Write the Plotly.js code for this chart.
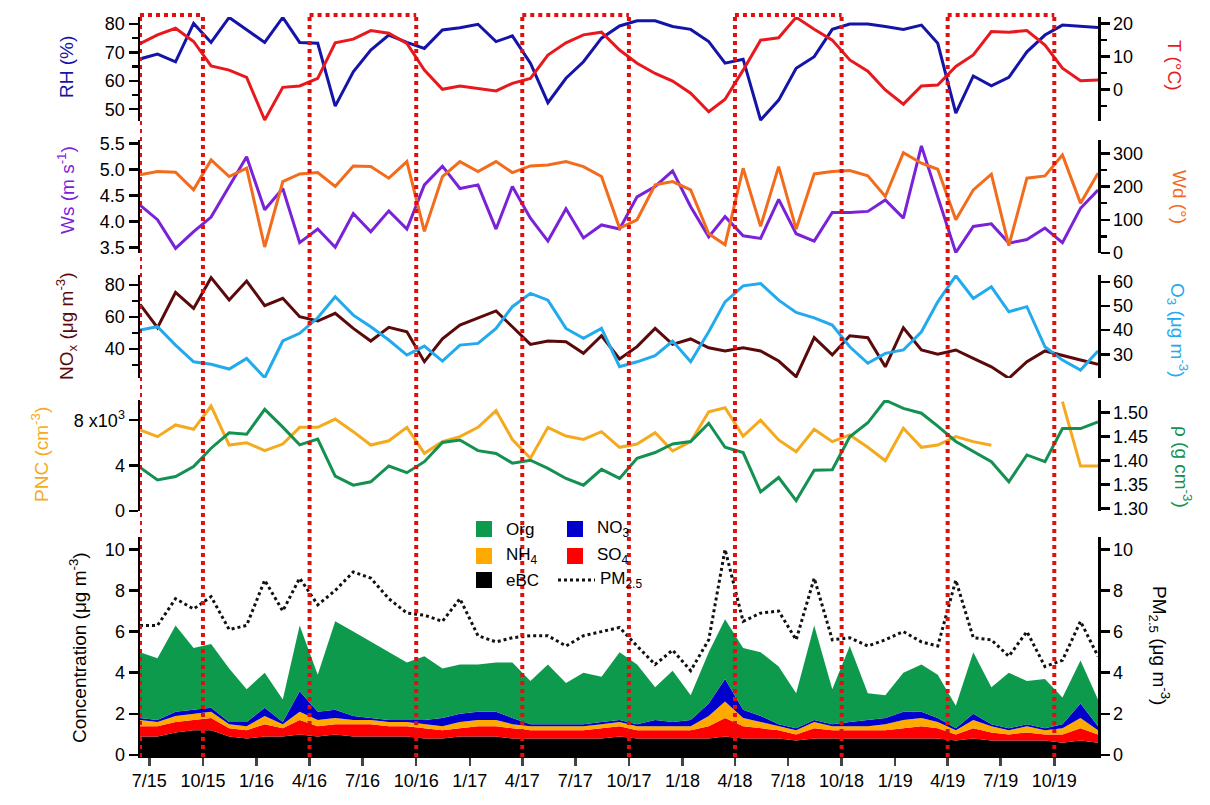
<!DOCTYPE html>
<html>
<head>
<meta charset="utf-8">
<script src="https://cdn.plot.ly/plotly-3.0.1.min.js"></script>
<style>html,body{margin:0;padding:0;background:#fff;}#chart{width:1210px;height:805px;}</style>
</head>
<body>
<div id="chart"></div>
<script>
const months = ["2015-06-15","2015-07-15","2015-08-15","2015-09-15","2015-10-15","2015-11-15","2015-12-15",
"2016-01-15","2016-02-15","2016-03-15","2016-04-15","2016-05-15","2016-06-15","2016-07-15","2016-08-15","2016-09-15","2016-10-15","2016-11-15","2016-12-15",
"2017-01-15","2017-02-15","2017-03-15","2017-04-15","2017-05-15","2017-06-15","2017-07-15","2017-08-15","2017-09-15","2017-10-15","2017-11-15","2017-12-15",
"2018-01-15","2018-02-15","2018-03-15","2018-04-15","2018-05-15","2018-06-15","2018-07-15","2018-08-15","2018-09-15","2018-10-15","2018-11-15","2018-12-15",
"2019-01-15","2019-02-15","2019-03-15","2019-04-15","2019-05-15","2019-06-15","2019-07-15","2019-08-15","2019-09-15","2019-10-15","2019-11-15","2019-12-15"];

const tickDates = ["2015-07-01","2015-10-01","2016-01-01","2016-04-01","2016-07-01","2016-10-01","2017-01-01","2017-04-01","2017-07-01","2017-10-01","2018-01-01","2018-04-01","2018-07-01","2018-10-01","2019-01-01","2019-04-01","2019-07-01","2019-10-01"];
const tickLabels = ["7/15","10/15","1/16","4/16","7/16","10/16","1/17","4/17","7/17","10/17","1/18","4/18","7/18","10/18","1/19","4/19","7/19","10/19"];

const RH = [67.7,69.4,66.7,80.2,73.5,82.3,78,73.5,82.3,73.5,73.2,51.1,63.2,70.8,76.1,73.5,71.4,77.9,78.7,79.9,73.8,75.8,66.2,52.3,60.9,66.7,75,79.3,81.1,81.1,79.1,78.1,73.8,66.2,67.6,46.2,53.2,64.4,68.5,78.1,80,80,79.1,78.1,79.6,73.2,48.6,61.7,58.2,61.2,70.2,76.1,79.6,79.3,78.8];
const T = [13.8,16.5,18.5,14.5,7.1,5.8,3.6,-9.3,0.6,1.0,3.3,14.1,15.2,17.8,17.0,13.9,5.8,0,1.0,0.3,-0.5,1.8,3.3,10.4,14.1,16.5,17.3,11.9,7.9,4.8,2.5,-1.2,-6.8,-3.0,5.8,14.9,15.6,21.8,18.2,14.9,8.9,5.5,-0.2,-4.5,1.0,1.3,6.9,10.4,17.5,17.3,17.8,13.4,6.4,2.6,2.8];
const Ws = [4.31,4.03,3.48,3.80,4.08,4.67,5.24,4.22,4.63,3.59,3.85,3.50,4.15,3.80,4.20,3.85,4.70,5.06,4.63,4.70,3.85,4.67,4.06,3.62,4.24,3.68,3.93,3.85,4.47,4.67,4.97,4.28,3.70,4.09,3.72,3.67,4.42,3.76,3.62,4.17,4.17,4.19,4.41,4.06,5.45,4.47,3.40,3.90,3.95,3.58,3.65,3.87,3.59,4.25,4.60];
const Wd = [235,245,243,190,280,230,255,18,215,238,242,200,262,260,225,275,65,230,275,245,275,242,262,265,275,260,230,75,100,205,215,190,58,25,255,80,260,72,238,245,248,232,170,302,270,252,100,190,237,22,225,232,295,150,240];
const NOx = [67.9,53.3,75.4,65.4,84.6,70.6,82.5,67.1,71.7,60.2,57.5,62.3,52.9,45,53.6,50.8,32.1,46.3,55,59.2,63.8,53.9,42.9,45,44.6,37.3,48.3,33.8,41.5,52.9,42.9,46.3,40.8,38.8,40.8,38.8,32.5,22.7,47.1,36.3,48.3,47.1,28.9,53.3,39.4,36.7,39.4,34.2,28.9,21.7,32.1,38.8,35.8,33.1,30.4];
const O3 = [40.0,41.4,33.8,26.9,25.9,23.9,28.3,20.3,35.5,38.7,45.1,53.8,46.2,41.4,35.9,29.7,33.4,27.2,33.8,34.5,40.7,49.7,55.2,52.4,40.7,36.6,40.7,24.9,26.9,29.4,35.5,26.9,39.3,51.7,58.3,59.3,52.4,47.3,45.1,42.1,33.1,26.3,30.4,31.8,39.3,51.7,62.5,53.1,57.9,47.6,49.7,33.1,27.6,23.5,31.4];
const PNC = [7.14,6.55,7.58,7.2,9.25,5.81,6.02,5.31,5.9,7.37,7.37,8.1,6.99,5.81,6.19,7.37,5.08,6.11,6.55,7.37,8.84,6.3,4.64,7.37,6.61,6.31,6.99,5.61,5.9,6.9,5.29,6.11,8.75,9.1,6.6,8.0,6.26,5.22,7.2,6.11,6.7,5.61,4.43,7.29,5.61,5.81,6.55,6.11,5.8,null,null,null,9.63,3.96,3.96];
const rho = [1.386,1.360,1.367,1.388,1.426,1.458,1.455,1.507,1.470,1.433,1.445,1.368,1.349,1.356,1.389,1.375,1.398,1.438,1.443,1.421,1.415,1.395,1.401,1.384,1.363,1.349,1.382,1.363,1.405,1.417,1.435,1.440,1.478,1.428,1.417,1.335,1.365,1.317,1.380,1.381,1.450,1.479,1.526,1.509,1.499,1.472,1.440,1.419,1.398,1.356,1.412,1.398,1.467,1.467,1.481];

const eBC = [0.9,0.9,1.1,1.2,1.2,0.9,0.8,0.9,0.9,1.0,0.9,1.0,0.9,0.9,0.9,0.9,0.8,0.8,0.9,0.9,0.9,0.8,0.8,0.8,0.8,0.8,0.8,0.9,0.8,0.8,0.8,0.8,0.8,0.9,0.8,0.8,0.8,0.7,0.8,0.8,0.8,0.8,0.8,0.8,0.8,0.8,0.7,0.8,0.7,0.7,0.7,0.7,0.6,0.7,0.6];
const SO4 = [0.5,0.5,0.5,0.5,0.6,0.4,0.4,0.6,0.4,0.7,0.5,0.5,0.6,0.6,0.5,0.5,0.5,0.4,0.4,0.5,0.5,0.5,0.4,0.4,0.4,0.4,0.5,0.5,0.4,0.4,0.4,0.4,0.6,0.9,0.6,0.5,0.4,0.3,0.5,0.4,0.4,0.4,0.4,0.5,0.6,0.5,0.3,0.5,0.4,0.3,0.4,0.3,0.4,0.6,0.4];
const NH4 = [0.3,0.2,0.3,0.3,0.3,0.2,0.2,0.4,0.2,0.4,0.3,0.3,0.2,0.2,0.2,0.2,0.2,0.2,0.3,0.3,0.3,0.2,0.2,0.2,0.2,0.2,0.2,0.2,0.2,0.2,0.2,0.2,0.5,0.8,0.4,0.3,0.2,0.2,0.3,0.2,0.2,0.2,0.3,0.4,0.4,0.3,0.2,0.4,0.3,0.2,0.3,0.2,0.3,0.5,0.2];
const NO3 = [0.1,0.1,0.2,0.2,0.2,0.1,0.2,0.4,0.1,1.0,0.4,0.4,0.2,0.1,0.1,0.1,0.2,0.4,0.4,0.4,0.4,0.3,0.1,0.1,0.1,0.1,0.1,0.1,0.1,0.3,0.2,0.3,0.6,1.1,0.4,0.3,0.1,0.1,0.1,0.1,0.2,0.3,0.3,0.4,0.3,0.2,0.1,0.3,0.1,0.1,0.1,0.1,0.2,0.7,0.2];
const Org = [3.2,3.0,4.2,3.0,3.1,2.6,1.6,1.7,1.1,3.2,1.8,4.3,4.1,3.7,3.3,2.8,3.1,2.4,2.4,2.3,2.4,2.7,2.1,2.9,2.0,2.5,2.2,3.3,2.9,1.6,2.5,1.2,2.5,2.9,3.0,3.1,2.8,1.7,4.6,1.7,3.7,1.3,1.1,1.9,2.3,2.1,1.1,3.0,1.8,2.7,2.1,2.4,1.3,2.1,1.3];
const PM25 = [6.3,6.3,7.6,7.1,7.7,6.1,6.3,8.5,7.0,8.6,7.3,8.0,8.9,8.6,7.6,6.9,6.8,6.5,7.6,5.8,5.5,5.7,5.8,5.8,5.3,5.8,6.0,6.2,5.3,4.4,5.1,4.1,5.6,10.0,6.5,6.9,7.0,5.6,8.6,5.6,5.7,5.3,5.6,6.0,5.5,5.3,8.5,5.7,5.6,4.8,6.0,4.3,4.6,6.5,4.8];

const FONT = "Liberation Sans, Arial, sans-serif";
const C = {RH:"#1414a8", T:"#e8191e", Ws:"#7a22d8", Wd:"#f26c1c", NOx:"#5a0a0a", O3:"#22aaee", PNC:"#f5aa1e", rho:"#149050",
  Org:"#0e9a4c", NH4:"#ffaa00", NO3:"#0000cc", SO4:"#ff0000", eBC:"#000000"};

function ln(y, yaxis, color, name) {
  return {x: months, y: y, yaxis: yaxis, type: "scatter", mode: "lines", name: name,
    line: {color: color, width: 3}, connectgaps: false, showlegend: false, hoverinfo: "skip"};
}
function st(y, color, name) {
  return {x: months, y: y, yaxis: "y9", type: "scatter", mode: "lines", stackgroup: "a", name: name,
    line: {width: 0, color: color}, fillcolor: color, showlegend: false, hoverinfo: "skip"};
}
const traces = [
  ln(RH, "y", C.RH, "RH"), ln(T, "y2", C.T, "T"),
  ln(Wd, "y4", C.Wd, "Wd"), ln(Ws, "y3", C.Ws, "Ws"),
  ln(NOx, "y5", C.NOx, "NOx"), ln(O3, "y6", C.O3, "O3"),
  ln(PNC, "y7", C.PNC, "PNC"), ln(rho, "y8", C.rho, "rho"),
  st(eBC, C.eBC, "eBC"), st(SO4, C.SO4, "SO4"), st(NH4, C.NH4, "NH4"), st(NO3, C.NO3, "NO3"), st(Org, C.Org, "Org"),
  {x: months, y: PM25, yaxis: "y10", type: "scatter", mode: "lines", name: "PM2.5", line: {color: "#111", width: 3, dash: "dot"}, showlegend: false, hoverinfo: "skip"}
];

const H = 805, TOP = 17, BOT = 50;
const py = p => 1 - (p - TOP) / (H - TOP - BOT);
const px = p => (p - 140) / 958;

function yax(dom, range, side, extra) {
  const a = {domain: [py(dom[1]), py(dom[0])], range: range, showgrid: false, zeroline: false,
    showline: true, linecolor: "#000", linewidth: 2.5, ticks: "outside", ticklen: 9, tickwidth: 2.5, tickcolor: "#000",
    tickfont: {family: FONT, size: 18, color: "#000"}, anchor: "x", side: side, fixedrange: true};
  return Object.assign(a, extra || {});
}
const minor = d => ({minor: {dtick: d, ticks: "outside", ticklen: 6, tickwidth: 2.5, tickcolor: "#000"}});

const layout = {
  width: 1210, height: 805, margin: {l: 140, r: 112, t: TOP, b: BOT},
  paper_bgcolor: "#fff", plot_bgcolor: "rgba(0,0,0,0)", showlegend: false,
  font: {family: FONT, size: 18, color: "#000"},
  xaxis: {type: "date", range: ["2015-06-15", "2019-12-15"], anchor: "y9", showgrid: false, zeroline: false,
    showline: true, linecolor: "#000", linewidth: 2.5, ticks: "outside", ticklen: 8, tickwidth: 2.5,
    tickvals: tickDates, ticktext: tickLabels, tickfont: {family: FONT, size: 18, color: "#000"}, fixedrange: true},
  yaxis: yax([17, 121], [45.85, 82.46], "left", Object.assign({tickvals: [50, 60, 70, 80]}, minor(5))),
  yaxis2: yax([17, 121], [-9.61, 21.91], "right", Object.assign({overlaying: "y", tickvals: [0, 10, 20]}, minor(5))),
  yaxis3: yax([140, 253], [3.39, 5.563], "left", {tickvals: [3.5, 4.0, 4.5, 5.0, 5.5], ticktext: ["3.5", "4.0", "4.5", "5.0", "5.5"]}),
  yaxis4: yax([140, 253], [0, 340], "right", Object.assign({overlaying: "y3", tickvals: [0, 100, 200, 300]}, minor(50))),
  yaxis5: yax([275, 378], [21.9, 86.25], "left", Object.assign({tickvals: [40, 60, 80]}, minor(10))),
  yaxis6: yax([275, 378], [20.2, 62.8], "right", {overlaying: "y5", tickvals: [20, 30, 40, 50, 60]}),
  yaxis7: yax([400, 511], [0, 9.78], "left", {tickvals: [0, 4, 8], ticktext: ["0", "4", "8 x10<sup>3</sup>"]}),
  yaxis8: yax([400, 511], [1.2952, 1.5265], "right", {overlaying: "y7", tickvals: [1.30, 1.35, 1.40, 1.45, 1.50], ticktext: ["1.30", "1.35", "1.40", "1.45", "1.50"]}),
  yaxis9: yax([537, 755], [0, 10.6], "left", {tickvals: [0, 2, 4, 6, 8, 10]}),
  yaxis10: yax([537, 755], [0, 10.6], "right", {overlaying: "y9", tickvals: [0, 2, 4, 6, 8, 10]}),
  shapes: [], annotations: []
};

// highlighted warm-season boxes (left, top and right edges)
const boxes = [["2015-06-15", "2015-10-01"], ["2016-04-01", "2016-10-01"], ["2017-04-01", "2017-10-01"], ["2018-04-01", "2018-10-01"], ["2019-04-01", "2019-10-01"]];
const boxLine = {color: "#e01010", width: 4, dash: "4px,4px"};
boxes.forEach(b => {
  layout.shapes.push({type: "line", xref: "x", yref: "paper", x0: b[0], x1: b[0], y0: py(757), y1: py(15), line: boxLine, layer: "above"});
  layout.shapes.push({type: "line", xref: "x", yref: "paper", x0: b[1], x1: b[1], y0: py(757), y1: py(15), line: boxLine, layer: "above"});
  layout.shapes.push({type: "line", xref: "x", yref: "paper", x0: b[0], x1: b[1], y0: py(15), y1: py(15), line: boxLine, layer: "above"});
});

function title(text, x, y, color, angle, size) {
  layout.annotations.push({text: text, xref: "paper", yref: "paper", x: px(x), y: py(y), showarrow: false,
    textangle: angle, font: {family: FONT, size: size || 19, color: color}, xanchor: "center", yanchor: "middle"});
}
title("RH (%)", 66, 67, C.RH, -90);
title("T (°C)", 1175, 65, C.T, 90);
title("Ws (m s<sup>-1</sup>)", 66, 190, C.Ws, -90);
title("Wd (°)", 1180, 197, C.Wd, 90);
title("NO<sub>x</sub> (μg m<sup>-3</sup>)", 66, 326, C.NOx, -90);
title("O<sub>3</sub> (μg m<sup>-3</sup>)", 1178, 330, C.O3, 90);
title("PNC (cm<sup>-3</sup>)", 40, 455, C.PNC, -90);
title("ρ (g cm<sup>-3</sup>)", 1183, 467, C.rho, 90);
title("Concentration (μg m<sup>-3</sup>)", 78, 648, "#000", -90);
title("PM<sub>2.5</sub> (μg m<sup>-3</sup>)", 1160, 645, "#000", 90);

// legend
function legSq(x, y, color, text) {
  layout.shapes.push({type: "rect", xref: "paper", yref: "paper", x0: px(x - 8), x1: px(x + 8), y0: py(y + 8), y1: py(y - 8), line: {width: 0}, fillcolor: color});
  layout.annotations.push({text: text, xref: "paper", yref: "paper", x: px(x + 20), y: py(y), xanchor: "left", yanchor: "middle", showarrow: false, font: {family: FONT, size: 17, color: "#000"}});
}
legSq(484, 529, C.Org, "Org");
legSq(575, 529, C.NO3, "NO<sub>3</sub>");
legSq(484, 556, C.NH4, "NH<sub>4</sub>");
legSq(575, 556, C.SO4, "SO<sub>4</sub>");
legSq(484, 580, C.eBC, "eBC");
layout.shapes.push({type: "line", xref: "paper", yref: "paper", x0: px(558), x1: px(595), y0: py(580), y1: py(580), line: {color: "#111", width: 3, dash: "dot"}});
layout.annotations.push({text: "PM<sub>2.5</sub>", xref: "paper", yref: "paper", x: px(598), y: py(580), xanchor: "left", yanchor: "middle", showarrow: false, font: {family: FONT, size: 17, color: "#000"}});

Plotly.newPlot("chart", traces, layout, {staticPlot: true, displayModeBar: false});
</script>
</body>
</html>
